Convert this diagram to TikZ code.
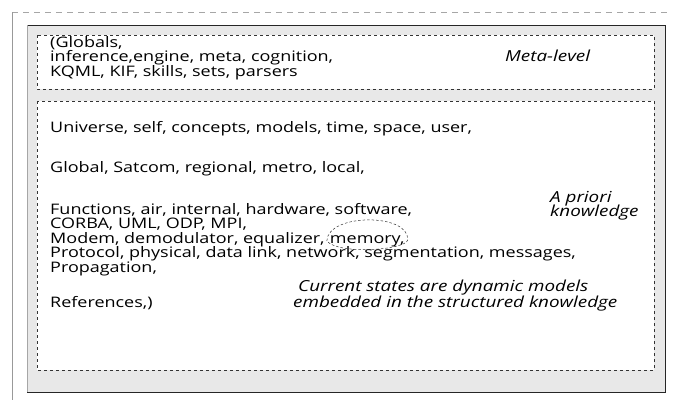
\documentclass[tikz,border=0pt]{standalone}
\usepackage{fontspec}
\setmainfont{Open Sans}[FakeStretch=1.24]
\usetikzlibrary{calc}
\begin{document}
\begin{tikzpicture}[x=1pt,y=-1pt,
  txt/.style={anchor=base west,inner sep=0pt,font=\fontsize{14.5}{16}\selectfont},
  itx/.style={anchor=base west,inner sep=0pt,font=\fontsize{15.2}{17}\selectfont\itshape},
  band/.style={fill=gray!18,draw=none},
  inner/.style={draw=black!80,line width=0.5pt,dash pattern=on 3pt off 3pt}]
\useasboundingbox (0,0) rectangle (678,400);
% outer faint frame
\coordinate (o1) at (12,12);
\coordinate (o2) at (668,12);
\coordinate (o3) at (12,400);
\draw[gray!70,dash pattern=on 6pt off 5pt] (o1) -- (o2);
\draw[gray!80,line width=0.6pt] (o1) -- (o3);
% stippled frame of the inner box
\path[band] (27,25) rectangle (665,392);
\fill[white] (37,35) rectangle (654,89);
\fill[white] (37,101) rectangle (654,370);
\draw[inner] (37,35) rectangle (654,89);
\draw[inner] (37,101) rectangle (654,370);
\draw[black!85,line width=0.6pt] (27,25) -- (665,25) -- (665,392) -- (27,392);
\draw[gray!70,line width=0.5pt] (27,25) -- (27,392);
% meta-level texts
\node[txt] (g1) at (50,47) {(Globals,};
\node[txt] (g2) at (50,61.5) {inference,engine, meta, cognition,};
\node[txt] (g3) at (50,76) {KQML, KIF, skills, sets, parsers};
\node[itx] (ml) at (505,61.5) {Meta-level};
% a priori texts
\node[txt] (u) at (50,132) {Universe, self, concepts, models, time, space, user,};
\node[txt] (gl) at (50,172) {Global, Satcom, regional, metro, local,};
\node[itx] (ap1) at (550,202) {A priori};
\node[itx] (ap2) at (550,216) {knowledge};
\node[txt] (fn) at (50,214) {Functions, air, internal, hardware, software,};
\node[txt] (co) at (50,228.5) {CORBA, UML, ODP, MPI,};
\node[txt] (mo) at (50,243) {Modem, demodulator, equalizer,};
\node[txt] (mem) at ($(mo.base east)+(5,0)$) {memory,};
\node[txt] (pr) at (50,257.5) {Protocol, physical, data link, network, segmentation, messages,};
\node[txt] (pg) at (50,272) {Propagation,};
\node[itx] (cs1) at (298,291) {Current states are dynamic models};
\node[txt] (rf) at (50,307) {References,)};
\node[itx] (cs2) at (293,307) {embedded in the structured knowledge};
% dashed loop around memory
\coordinate (e1) at ($(mem.base west)+(-3,-2)$);
\coordinate (e2) at ($(mem.base east)+(3,-3)$);
\draw[black!80,line width=0.5pt,dash pattern=on 2.5pt off 2pt]
  (e1) .. controls ($(e1)+(1,-28)$) and ($(e2)+(2,-27)$) .. (e2)
       .. controls ($(e2)+(-2,10)$) and ($(e1)+(12,14)$) .. cycle;
\end{tikzpicture}
\end{document}
